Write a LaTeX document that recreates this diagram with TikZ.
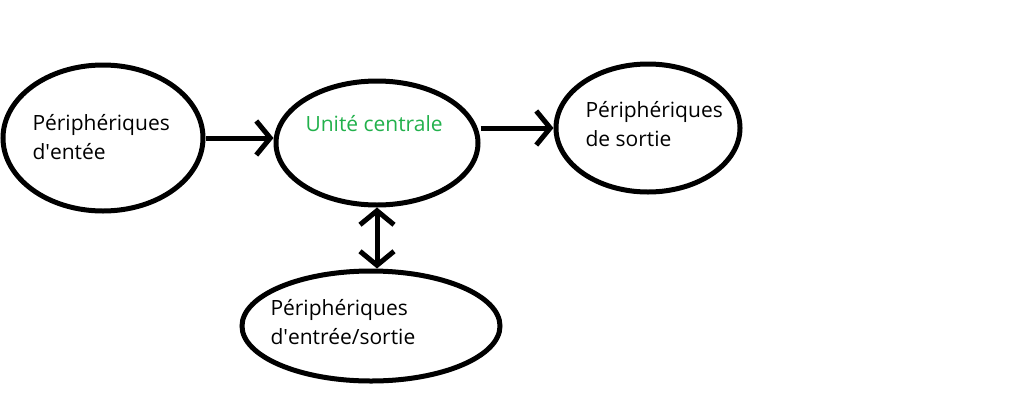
\documentclass[tikz,border=0pt]{standalone}
\usepackage{fontspec}
\setmainfont{Open Sans}
\usetikzlibrary{arrows.meta}
\usetikzlibrary{shapes.geometric}
\definecolor{vertpaint}{RGB}{34,177,76}

\begin{document}
\begin{tikzpicture}[
		x=1pt, y=-1pt,
		line width=5pt,
		bulle/.style={draw, ellipse, inner sep=0pt},
		texte/.style={align=left, anchor=base west, inner sep=0pt, font=\fontsize{21}{29}\selectfont},
		pointe/.tip={Straight Barb[length=14pt,width=34pt]},
		fleche/.style={-pointe},
		double fleche/.style={pointe-pointe}
	]
		\useasboundingbox (0,0) rectangle (1011,418);
		% les quatre bulles
		\node[bulle, minimum width=200pt, minimum height=146pt] (entree) at (103,138) {};
		\node[bulle, minimum width=202pt, minimum height=124pt] (centre) at (377,143) {};
		\node[bulle, minimum width=184pt, minimum height=128pt] (sortie) at (648,128) {};
		\node[bulle, minimum width=258pt, minimum height=110pt] (es) at (371,326) {};
		% textes (base = derniere ligne)
		\node[texte] (t-entree) at (30,159) {Périphériques\\d\textquotesingle entée};
		\node[texte, text=vertpaint] (t-centre) at (303,131) {Unité centrale};
		\node[texte] (t-sortie) at (583,146) {Périphériques\\de sortie};
		\node[texte] (t-es) at (268,344) {Périphériques\\d\textquotesingle entrée/sortie};
		% fleches
		\draw[fleche] (entree.east) -- (entree.east -| centre.west);
		\draw[fleche] (centre.east |- sortie.west) -- (sortie.west);
		\draw[double fleche] (centre.south) -- (centre.south |- es.north);
\end{tikzpicture}
\end{document}
